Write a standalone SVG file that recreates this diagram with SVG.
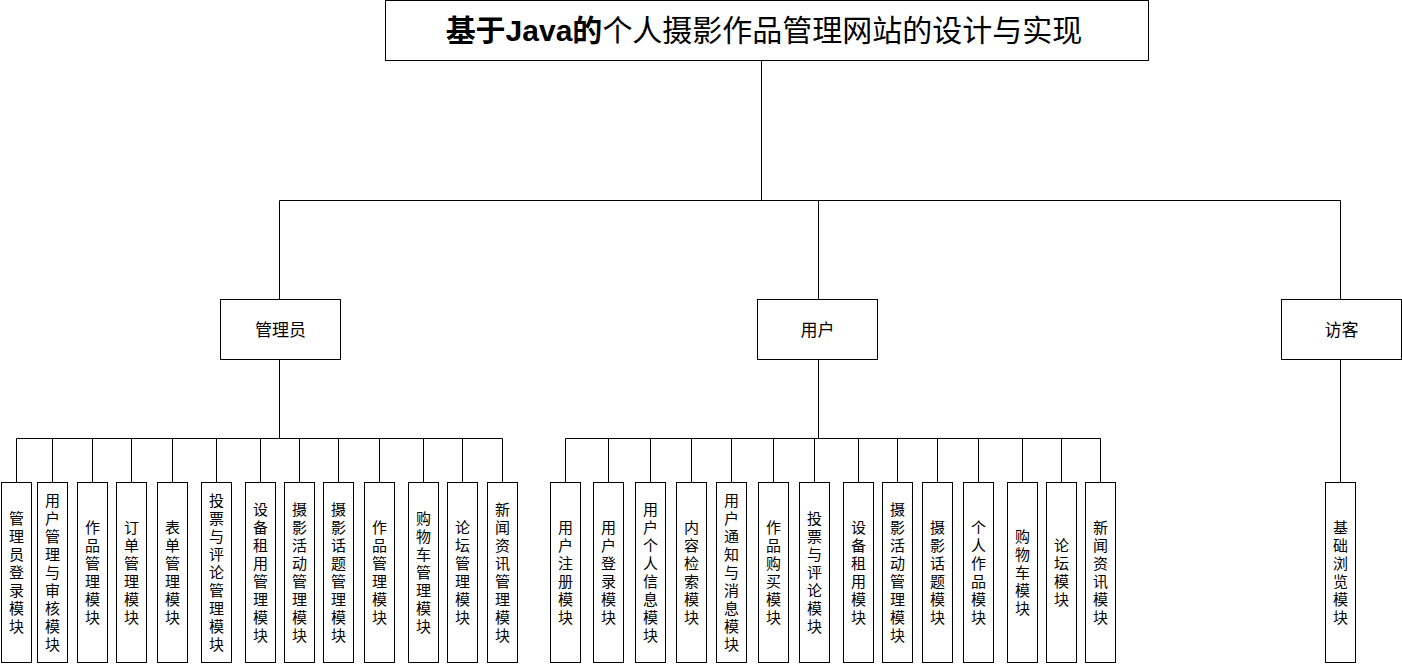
<svg xmlns="http://www.w3.org/2000/svg" width="1402" height="664" viewBox="0 0 1402 664">
<style>
.box{fill:#fff;stroke:#000;stroke-width:1}
.ln{fill:none;stroke:#000;stroke-width:1}
text{font-family:"Liberation Sans","Noto Sans CJK SC",sans-serif;fill:#000}
.t{font-size:30px;text-anchor:middle}
.n{font-size:17px;text-anchor:middle}
.v{font-size:15px;text-anchor:middle}
</style>
<rect x="0" y="0" width="1402" height="664" fill="#fff"/>
<g id="connectors">
<path class="ln" d="M761.5 61V200.5M279.5 200.5H1340.5M279.5 200.5V299M818.5 200.5V299M1340.5 200.5V299"/>
<path class="ln" d="M279.5 359V438.5M16.5 438.5H502.5M16.5 438.5V482M52.5 438.5V482M92.5 438.5V482M131.5 438.5V482M172.5 438.5V482M216.5 438.5V482M260.5 438.5V482M299.5 438.5V482M338.5 438.5V482M379.5 438.5V482M423.5 438.5V482M462.5 438.5V482M502.5 438.5V482"/>
<path class="ln" d="M818.5 359V438.5M565.5 438.5H1100.5M565.5 438.5V482M608.5 438.5V482M650.5 438.5V482M691.5 438.5V482M731.5 438.5V482M773.5 438.5V482M814.5 438.5V482M858.5 438.5V482M897.5 438.5V482M937.5 438.5V482M978.5 438.5V482M1022.5 438.5V482M1061.5 438.5V482M1100.5 438.5V482"/>
<path class="ln" d="M1340.5 359V482"/>
</g>
<g id="title"><rect class="box" x="385.5" y="0.5" width="763" height="60"/><text class="t" x="764" y="41"><tspan font-weight="bold">基于Java的</tspan>个人摄影作品管理网站的设计与实现</text></g>
<g id="admin"><rect class="box" x="220.5" y="299.5" width="120" height="60"/><text class="n" x="280.5" y="335.5">管理员</text></g>
<g id="user"><rect class="box" x="757.5" y="299.5" width="120" height="60"/><text class="n" x="817.5" y="335.5">用户</text></g>
<g id="guest"><rect class="box" x="1281.5" y="299.5" width="120" height="60"/><text class="n" x="1341.5" y="335.5">访客</text></g>

<g id="a1"><rect class="box" x="1.5" y="482.5" width="30" height="180"/><text class="v" y="523.5"><tspan x="16.5">管</tspan><tspan x="16.5" dy="18">理</tspan><tspan x="16.5" dy="18">员</tspan><tspan x="16.5" dy="18">登</tspan><tspan x="16.5" dy="18">录</tspan><tspan x="16.5" dy="18">模</tspan><tspan x="16.5" dy="18">块</tspan></text></g>
<g id="a2"><rect class="box" x="37.5" y="482.5" width="30" height="180"/><text class="v" y="505.5"><tspan x="52.5">用</tspan><tspan x="52.5" dy="18">户</tspan><tspan x="52.5" dy="18">管</tspan><tspan x="52.5" dy="18">理</tspan><tspan x="52.5" dy="18">与</tspan><tspan x="52.5" dy="18">审</tspan><tspan x="52.5" dy="18">核</tspan><tspan x="52.5" dy="18">模</tspan><tspan x="52.5" dy="18">块</tspan></text></g>
<g id="a3"><rect class="box" x="77.5" y="482.5" width="30" height="180"/><text class="v" y="532.5"><tspan x="92.5">作</tspan><tspan x="92.5" dy="18">品</tspan><tspan x="92.5" dy="18">管</tspan><tspan x="92.5" dy="18">理</tspan><tspan x="92.5" dy="18">模</tspan><tspan x="92.5" dy="18">块</tspan></text></g>
<g id="a4"><rect class="box" x="116.5" y="482.5" width="30" height="180"/><text class="v" y="532.5"><tspan x="131.5">订</tspan><tspan x="131.5" dy="18">单</tspan><tspan x="131.5" dy="18">管</tspan><tspan x="131.5" dy="18">理</tspan><tspan x="131.5" dy="18">模</tspan><tspan x="131.5" dy="18">块</tspan></text></g>
<g id="a5"><rect class="box" x="157.5" y="482.5" width="30" height="180"/><text class="v" y="532.5"><tspan x="172.5">表</tspan><tspan x="172.5" dy="18">单</tspan><tspan x="172.5" dy="18">管</tspan><tspan x="172.5" dy="18">理</tspan><tspan x="172.5" dy="18">模</tspan><tspan x="172.5" dy="18">块</tspan></text></g>
<g id="a6"><rect class="box" x="201.5" y="482.5" width="30" height="180"/><text class="v" y="505.5"><tspan x="216.5">投</tspan><tspan x="216.5" dy="18">票</tspan><tspan x="216.5" dy="18">与</tspan><tspan x="216.5" dy="18">评</tspan><tspan x="216.5" dy="18">论</tspan><tspan x="216.5" dy="18">管</tspan><tspan x="216.5" dy="18">理</tspan><tspan x="216.5" dy="18">模</tspan><tspan x="216.5" dy="18">块</tspan></text></g>
<g id="a7"><rect class="box" x="245.5" y="482.5" width="30" height="180"/><text class="v" y="514.5"><tspan x="260.5">设</tspan><tspan x="260.5" dy="18">备</tspan><tspan x="260.5" dy="18">租</tspan><tspan x="260.5" dy="18">用</tspan><tspan x="260.5" dy="18">管</tspan><tspan x="260.5" dy="18">理</tspan><tspan x="260.5" dy="18">模</tspan><tspan x="260.5" dy="18">块</tspan></text></g>
<g id="a8"><rect class="box" x="284.5" y="482.5" width="30" height="180"/><text class="v" y="514.5"><tspan x="299.5">摄</tspan><tspan x="299.5" dy="18">影</tspan><tspan x="299.5" dy="18">活</tspan><tspan x="299.5" dy="18">动</tspan><tspan x="299.5" dy="18">管</tspan><tspan x="299.5" dy="18">理</tspan><tspan x="299.5" dy="18">模</tspan><tspan x="299.5" dy="18">块</tspan></text></g>
<g id="a9"><rect class="box" x="323.5" y="482.5" width="30" height="180"/><text class="v" y="514.5"><tspan x="338.5">摄</tspan><tspan x="338.5" dy="18">影</tspan><tspan x="338.5" dy="18">话</tspan><tspan x="338.5" dy="18">题</tspan><tspan x="338.5" dy="18">管</tspan><tspan x="338.5" dy="18">理</tspan><tspan x="338.5" dy="18">模</tspan><tspan x="338.5" dy="18">块</tspan></text></g>
<g id="a10"><rect class="box" x="364.5" y="482.5" width="30" height="180"/><text class="v" y="532.5"><tspan x="379.5">作</tspan><tspan x="379.5" dy="18">品</tspan><tspan x="379.5" dy="18">管</tspan><tspan x="379.5" dy="18">理</tspan><tspan x="379.5" dy="18">模</tspan><tspan x="379.5" dy="18">块</tspan></text></g>
<g id="a11"><rect class="box" x="408.5" y="482.5" width="30" height="180"/><text class="v" y="523.5"><tspan x="423.5">购</tspan><tspan x="423.5" dy="18">物</tspan><tspan x="423.5" dy="18">车</tspan><tspan x="423.5" dy="18">管</tspan><tspan x="423.5" dy="18">理</tspan><tspan x="423.5" dy="18">模</tspan><tspan x="423.5" dy="18">块</tspan></text></g>
<g id="a12"><rect class="box" x="447.5" y="482.5" width="30" height="180"/><text class="v" y="532.5"><tspan x="462.5">论</tspan><tspan x="462.5" dy="18">坛</tspan><tspan x="462.5" dy="18">管</tspan><tspan x="462.5" dy="18">理</tspan><tspan x="462.5" dy="18">模</tspan><tspan x="462.5" dy="18">块</tspan></text></g>
<g id="a13"><rect class="box" x="487.5" y="482.5" width="30" height="180"/><text class="v" y="514.5"><tspan x="502.5">新</tspan><tspan x="502.5" dy="18">闻</tspan><tspan x="502.5" dy="18">资</tspan><tspan x="502.5" dy="18">讯</tspan><tspan x="502.5" dy="18">管</tspan><tspan x="502.5" dy="18">理</tspan><tspan x="502.5" dy="18">模</tspan><tspan x="502.5" dy="18">块</tspan></text></g>

<g id="u1"><rect class="box" x="550.5" y="482.5" width="30" height="180"/><text class="v" y="532.5"><tspan x="565.5">用</tspan><tspan x="565.5" dy="18">户</tspan><tspan x="565.5" dy="18">注</tspan><tspan x="565.5" dy="18">册</tspan><tspan x="565.5" dy="18">模</tspan><tspan x="565.5" dy="18">块</tspan></text></g>
<g id="u2"><rect class="box" x="593.5" y="482.5" width="30" height="180"/><text class="v" y="532.5"><tspan x="608.5">用</tspan><tspan x="608.5" dy="18">户</tspan><tspan x="608.5" dy="18">登</tspan><tspan x="608.5" dy="18">录</tspan><tspan x="608.5" dy="18">模</tspan><tspan x="608.5" dy="18">块</tspan></text></g>
<g id="u3"><rect class="box" x="635.5" y="482.5" width="30" height="180"/><text class="v" y="514.5"><tspan x="650.5">用</tspan><tspan x="650.5" dy="18">户</tspan><tspan x="650.5" dy="18">个</tspan><tspan x="650.5" dy="18">人</tspan><tspan x="650.5" dy="18">信</tspan><tspan x="650.5" dy="18">息</tspan><tspan x="650.5" dy="18">模</tspan><tspan x="650.5" dy="18">块</tspan></text></g>
<g id="u4"><rect class="box" x="676.5" y="482.5" width="30" height="180"/><text class="v" y="532.5"><tspan x="691.5">内</tspan><tspan x="691.5" dy="18">容</tspan><tspan x="691.5" dy="18">检</tspan><tspan x="691.5" dy="18">索</tspan><tspan x="691.5" dy="18">模</tspan><tspan x="691.5" dy="18">块</tspan></text></g>
<g id="u5"><rect class="box" x="716.5" y="482.5" width="30" height="180"/><text class="v" y="505.5"><tspan x="731.5">用</tspan><tspan x="731.5" dy="18">户</tspan><tspan x="731.5" dy="18">通</tspan><tspan x="731.5" dy="18">知</tspan><tspan x="731.5" dy="18">与</tspan><tspan x="731.5" dy="18">消</tspan><tspan x="731.5" dy="18">息</tspan><tspan x="731.5" dy="18">模</tspan><tspan x="731.5" dy="18">块</tspan></text></g>
<g id="u6"><rect class="box" x="758.5" y="482.5" width="30" height="180"/><text class="v" y="532.5"><tspan x="773.5">作</tspan><tspan x="773.5" dy="18">品</tspan><tspan x="773.5" dy="18">购</tspan><tspan x="773.5" dy="18">买</tspan><tspan x="773.5" dy="18">模</tspan><tspan x="773.5" dy="18">块</tspan></text></g>
<g id="u7"><rect class="box" x="799.5" y="482.5" width="30" height="180"/><text class="v" y="523.5"><tspan x="814.5">投</tspan><tspan x="814.5" dy="18">票</tspan><tspan x="814.5" dy="18">与</tspan><tspan x="814.5" dy="18">评</tspan><tspan x="814.5" dy="18">论</tspan><tspan x="814.5" dy="18">模</tspan><tspan x="814.5" dy="18">块</tspan></text></g>
<g id="u8"><rect class="box" x="843.5" y="482.5" width="30" height="180"/><text class="v" y="532.5"><tspan x="858.5">设</tspan><tspan x="858.5" dy="18">备</tspan><tspan x="858.5" dy="18">租</tspan><tspan x="858.5" dy="18">用</tspan><tspan x="858.5" dy="18">模</tspan><tspan x="858.5" dy="18">块</tspan></text></g>
<g id="u9"><rect class="box" x="882.5" y="482.5" width="30" height="180"/><text class="v" y="514.5"><tspan x="897.5">摄</tspan><tspan x="897.5" dy="18">影</tspan><tspan x="897.5" dy="18">活</tspan><tspan x="897.5" dy="18">动</tspan><tspan x="897.5" dy="18">管</tspan><tspan x="897.5" dy="18">理</tspan><tspan x="897.5" dy="18">模</tspan><tspan x="897.5" dy="18">块</tspan></text></g>
<g id="u10"><rect class="box" x="922.5" y="482.5" width="30" height="180"/><text class="v" y="532.5"><tspan x="937.5">摄</tspan><tspan x="937.5" dy="18">影</tspan><tspan x="937.5" dy="18">话</tspan><tspan x="937.5" dy="18">题</tspan><tspan x="937.5" dy="18">模</tspan><tspan x="937.5" dy="18">块</tspan></text></g>
<g id="u11"><rect class="box" x="963.5" y="482.5" width="30" height="180"/><text class="v" y="532.5"><tspan x="978.5">个</tspan><tspan x="978.5" dy="18">人</tspan><tspan x="978.5" dy="18">作</tspan><tspan x="978.5" dy="18">品</tspan><tspan x="978.5" dy="18">模</tspan><tspan x="978.5" dy="18">块</tspan></text></g>
<g id="u12"><rect class="box" x="1007.5" y="482.5" width="30" height="180"/><text class="v" y="541.5"><tspan x="1022.5">购</tspan><tspan x="1022.5" dy="18">物</tspan><tspan x="1022.5" dy="18">车</tspan><tspan x="1022.5" dy="18">模</tspan><tspan x="1022.5" dy="18">块</tspan></text></g>
<g id="u13"><rect class="box" x="1046.5" y="482.5" width="30" height="180"/><text class="v" y="550.5"><tspan x="1061.5">论</tspan><tspan x="1061.5" dy="18">坛</tspan><tspan x="1061.5" dy="18">模</tspan><tspan x="1061.5" dy="18">块</tspan></text></g>
<g id="u14"><rect class="box" x="1085.5" y="482.5" width="30" height="180"/><text class="v" y="532.5"><tspan x="1100.5">新</tspan><tspan x="1100.5" dy="18">闻</tspan><tspan x="1100.5" dy="18">资</tspan><tspan x="1100.5" dy="18">讯</tspan><tspan x="1100.5" dy="18">模</tspan><tspan x="1100.5" dy="18">块</tspan></text></g>

<g id="g1"><rect class="box" x="1325.5" y="482.5" width="30" height="180"/><text class="v" y="532.5"><tspan x="1340.5">基</tspan><tspan x="1340.5" dy="18">础</tspan><tspan x="1340.5" dy="18">浏</tspan><tspan x="1340.5" dy="18">览</tspan><tspan x="1340.5" dy="18">模</tspan><tspan x="1340.5" dy="18">块</tspan></text></g>
</svg>
